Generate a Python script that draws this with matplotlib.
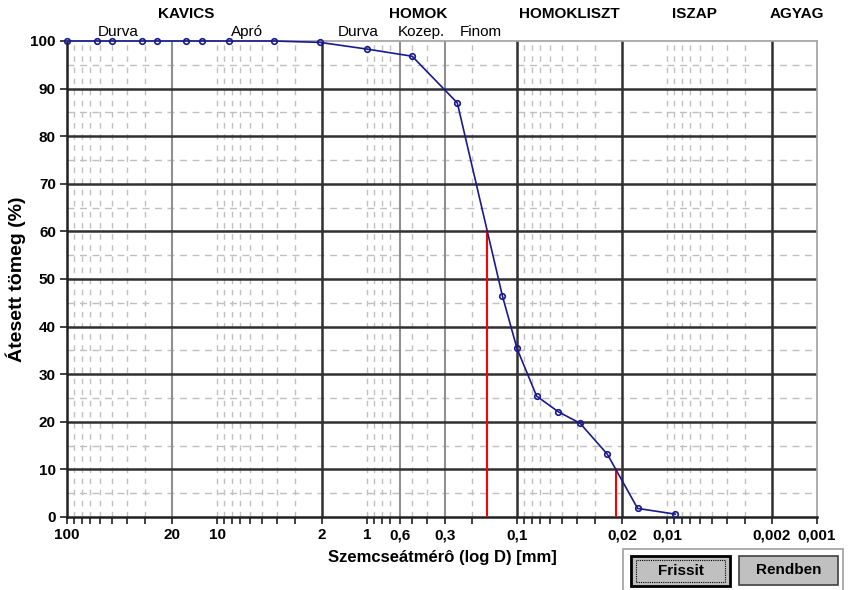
import matplotlib
matplotlib.use("Agg")
import matplotlib.pyplot as plt
import numpy as np
from matplotlib.patches import Rectangle

plt.rcParams["font.family"] = ["Liberation Sans", "DejaVu Sans"]

# grain size distribution (sieve + hydrometer)
diameters = [100, 63, 50, 31.5, 25, 16, 12.5, 8.3, 4.15, 2.05, 1, 0.5, 0.25,
             0.125, 0.1, 0.074, 0.053, 0.038, 0.025, 0.0157, 0.0088]
passing = [100, 100, 100, 100, 100, 100, 100, 100, 100, 99.7, 98.3, 96.8, 87.0,
           46.4, 35.4, 25.4, 22.1, 19.7, 13.2, 1.8, 0.6]

tick_values = [100, 20, 10, 2, 1, 0.6, 0.3, 0.1, 0.02, 0.01, 0.002, 0.001]
tick_labels = ["100", "20", "10", "2", "1", "0,6", "0,3", "0,1", "0,02", "0,01", "0,002", "0,001"]

black_lines = [2, 0.1, 0.02, 0.002]
gray_lines = [20, 0.6, 0.3]
minor_lines = [90, 80, 70, 60, 50, 40, 30,
               10, 9, 8, 7, 6, 5, 4, 3,
               1, 0.9, 0.8, 0.7, 0.5, 0.4, 0.2,
               0.09, 0.08, 0.07, 0.06, 0.05, 0.04, 0.03,
               0.01, 0.009, 0.008, 0.007, 0.006, 0.005, 0.004, 0.003]

groups = ["KAVICS", "HOMOK", "HOMOKLISZT", "ISZAP", "AGYAG"]
group_pos = [0.159, 0.468, 0.670, 0.836, 0.973]
subgroups = ["Durva", "Apró", "Durva", "Kozep.", "Finom"]
subgroup_pos = [0.068, 0.240, 0.388, 0.473, 0.552]

fig = plt.figure(figsize=(8.55, 5.9), dpi=100)
ax = fig.add_axes([67 / 855, 1 - 517 / 590, 750 / 855, 476 / 590])

ax.set_xscale("log")
ax.set_xlim(100, 0.001)
ax.set_ylim(0, 100)

for v in minor_lines:
    ax.axvline(v, color="#c0c0c0", lw=1, ls=(0, (4, 4)), zorder=1)
for y in range(5, 100, 10):
    ax.axhline(y, color="#c0c0c0", lw=1, ls=(0, (5, 4)), zorder=1)
for v in gray_lines:
    ax.axvline(v, color="#909090", lw=1.5, zorder=2)
for v in black_lines:
    ax.axvline(v, color="#303030", lw=1.8, zorder=2)
for y in range(10, 100, 10):
    ax.axhline(y, color="#303030", lw=1.8, zorder=2)

# d60 and d10 from the curve (log interpolation)
logd = np.log10(diameters)
for target in (60, 10):
    d = 10 ** np.interp(target, passing[::-1], logd[::-1])
    ax.plot([d, d], [0, target], color="red", lw=1.5, zorder=3)

ax.plot(diameters, passing, color="#1a1a8c", lw=1.2, marker="o", ms=4,
        mfc="none", mec="#1a1a8c", mew=1.2, zorder=4, clip_on=False)

ax.set_xticks(tick_values)
ax.set_xticklabels(tick_labels)
ax.set_xticks(minor_lines + gray_lines, minor=True)
ax.xaxis.set_minor_formatter(plt.NullFormatter())
ax.set_yticks(range(0, 101, 10))
ax.tick_params(axis="both", which="both", direction="out", length=5, width=1.2,
               colors="#202020", labelsize=11, pad=3)
for lab in ax.get_xticklabels() + ax.get_yticklabels():
    lab.set_fontweight("bold")
    lab.set_color("black")

for side in ("top", "right"):
    ax.spines[side].set_color("#a0a0a0")
    ax.spines[side].set_linewidth(1.2)
for side in ("left", "bottom"):
    ax.spines[side].set_color("#202020")
    ax.spines[side].set_linewidth(1.8)

ax.set_xlabel("Szemcseátmérô (log D) [mm]", fontsize=12, fontweight="bold", labelpad=6)
ax.set_ylabel("Átesett tömeg (%)", fontsize=14, fontweight="bold", labelpad=3)

for name, xp in zip(groups, group_pos):
    ax.text(xp, 1.056, name, transform=ax.transAxes, ha="center", va="center",
            fontsize=11, fontweight="bold")
for name, xp in zip(subgroups, subgroup_pos):
    ax.text(xp, 1.004, name, transform=ax.transAxes, ha="center", va="bottom",
            fontsize=11)

# button panel below the chart
def px_rect(x0, y0, x1, y1, **kw):
    r = Rectangle((x0 / 855, 1 - y1 / 590), (x1 - x0) / 855, (y1 - y0) / 590,
                  transform=fig.transFigure, **kw)
    fig.add_artist(r)

px_rect(623, 549, 843, 595, fill=False, edgecolor="#a0a0a0", lw=1.2)
px_rect(631, 556, 730, 586, facecolor="#c0c0c0", edgecolor="black", lw=2)
px_rect(636, 560, 725, 582, fill=False, edgecolor="black", lw=0.8, ls=(0, (1, 1)))
px_rect(739, 556, 838, 585, facecolor="#c0c0c0", edgecolor="#404040", lw=1.2)
fig.text(680.5 / 855, 1 - 571 / 590, "Frissit", ha="center", va="center",
         fontsize=11, fontweight="bold")
fig.text(788.5 / 855, 1 - 570.5 / 590, "Rendben", ha="center", va="center",
         fontsize=11, fontweight="bold")

fig.savefig("out.png", dpi=100)
